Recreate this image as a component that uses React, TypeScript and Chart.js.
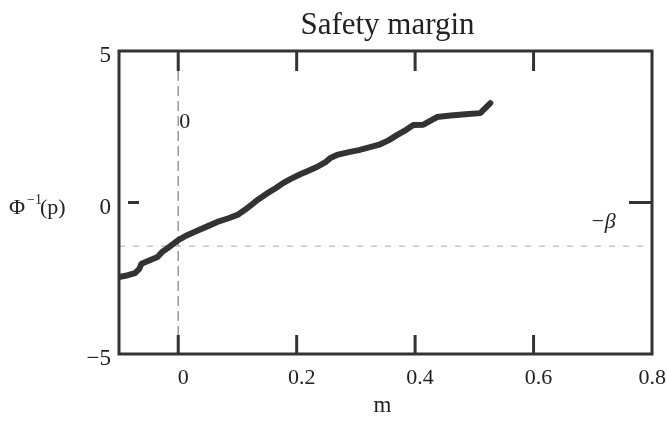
import React, { useEffect, useRef } from "react";
import { Chart, registerables } from "chart.js";

Chart.register(...registerables);

const mValues = [
  -0.1, -0.085, -0.073, -0.066, -0.062, -0.047, -0.035, -0.027, -0.014, 0, 0.015, 0.032, 0.05,
  0.066, 0.085, 0.1, 0.112, 0.122, 0.135, 0.15, 0.165, 0.177, 0.19, 0.206, 0.22, 0.235, 0.25,
  0.257, 0.268, 0.29, 0.305, 0.319, 0.341, 0.355, 0.37, 0.385, 0.397, 0.414, 0.437, 0.46, 0.485,
  0.51, 0.527,
];
const phiValues = [
  -2.46, -2.4, -2.33, -2.2, -2.02, -1.9, -1.8, -1.63, -1.45, -1.24, -1.08, -0.93, -0.78, -0.64,
  -0.52, -0.41, -0.25, -0.1, 0.1, 0.3, 0.48, 0.64, 0.78, 0.93, 1.05, 1.18, 1.35, 1.47, 1.57, 1.67,
  1.73, 1.8, 1.92, 2.05, 2.23, 2.4, 2.56, 2.57, 2.82, 2.87, 2.91, 2.95, 3.28,
];
const xTicks = [0, 0.2, 0.4, 0.6, 0.8];
const xTickLabels = ["0", "0.2", "0.4", "0.6", "0.8"];
const yTicks = [-5, 0, 5];
const innerXTicks = [0, 0.2, 0.4, 0.6];
const beta = 1.44;
const titleText = "Safety margin";
const xTitle = "m";

const FONT = "'Liberation Serif', 'Times New Roman', serif";

const decorPlugin = {
  id: "decor",
  beforeDatasetsDraw(chart: any) {
    const { ctx, chartArea: a, scales } = chart;
    const xs = scales.x;
    const ys = scales.y;
    ctx.save();
    const x0 = xs.getPixelForValue(0);
    ctx.strokeStyle = "#9a9a9a";
    ctx.lineWidth = 1.5;
    ctx.setLineDash([10, 5]);
    ctx.beginPath();
    ctx.moveTo(x0, a.top + 20);
    ctx.lineTo(x0, a.bottom);
    ctx.stroke();
    const yb = ys.getPixelForValue(-beta);
    ctx.strokeStyle = "#a8a8a8";
    ctx.lineWidth = 1;
    ctx.setLineDash([6, 8]);
    ctx.beginPath();
    ctx.moveTo(a.left, yb);
    ctx.lineTo(a.right, yb);
    ctx.stroke();
    ctx.restore();
  },
  afterDatasetsDraw(chart: any) {
    const { ctx, chartArea: a, scales, width } = chart;
    const xs = scales.x;
    const ys = scales.y;
    ctx.save();
    ctx.setLineDash([]);
    ctx.strokeStyle = "#333";
    ctx.lineWidth = 3;
    ctx.strokeRect(a.left, a.top, a.right - a.left, a.bottom - a.top);
    innerXTicks.forEach((v) => {
      const px = xs.getPixelForValue(v);
      ctx.beginPath();
      ctx.moveTo(px, a.top);
      ctx.lineTo(px, a.top + 20);
      ctx.stroke();
      ctx.beginPath();
      ctx.moveTo(px, a.bottom);
      ctx.lineTo(px, a.bottom - 19);
      ctx.stroke();
    });
    const y0 = ys.getPixelForValue(0);
    ctx.beginPath();
    ctx.moveTo(a.left + 9, y0);
    ctx.lineTo(a.left + 20, y0);
    ctx.stroke();
    ctx.beginPath();
    ctx.moveTo(a.right - 23, y0);
    ctx.lineTo(a.right, y0);
    ctx.stroke();

    ctx.fillStyle = "#222";
    ctx.textBaseline = "alphabetic";

    // x tick labels
    ctx.textAlign = "center";
    ctx.font = `22px ${FONT}`;
    xTicks.forEach((v, i) => {
      const label = xTickLabels[i];
      const w = ctx.measureText(label).width;
      let cx = xs.getPixelForValue(v) + 5;
      if (cx + w / 2 > width - 1) cx = width - 1 - w / 2;
      ctx.fillText(label, cx, 384);
    });

    ctx.font = `31px ${FONT}`;
    ctx.fillText(titleText, (a.left + a.right) / 2 + 2, 34);
    ctx.font = `23px ${FONT}`;
    ctx.fillText(xTitle, (a.left + a.right) / 2 - 3, 412);

    ctx.textAlign = "left";
    ctx.font = `22px ${FONT}`;
    ctx.fillText("Φ", 9, 214);
    ctx.font = `14px ${FONT}`;
    ctx.fillText("−1", 27, 204);
    ctx.font = `22px ${FONT}`;
    ctx.fillText("(p)", 40, 214);

    ctx.font = `22px ${FONT}`;
    ctx.fillText("0", xs.getPixelForValue(0) + 1, 128);
    ctx.font = `italic 22px ${FONT}`;
    ctx.fillText("−β", 590, ys.getPixelForValue(-beta) - 18);
    ctx.restore();
  },
};

export default function App() {
  const ref = useRef<HTMLCanvasElement | null>(null);
  useEffect(() => {
    if (!ref.current) return;
    const chart = new Chart(ref.current, {
      type: "scatter",
      data: {
        datasets: [
          {
            data: mValues.map((m, i) => ({ x: m, y: phiValues[i] })),
            showLine: true,
            borderColor: "#333",
            borderWidth: 6,
            pointRadius: 0,
            tension: 0,
            borderJoinStyle: "round",
            borderCapStyle: "round",
          } as any,
        ],
      },
      options: {
        animation: false,
        responsive: true,
        maintainAspectRatio: false,
        layout: { padding: { top: 51, right: 15, left: 0, bottom: 0 } },
        plugins: { legend: { display: false }, tooltip: { enabled: false }, title: { display: false } },
        scales: {
          x: {
            type: "linear",
            min: -0.1,
            max: 0.8,
            grid: { display: false, drawTicks: false },
            border: { display: false },
            afterBuildTicks: (s: any) => {
              s.ticks = xTicks.map((v) => ({ value: v }));
            },
            afterFit: (s: any) => {
              s.height = 76;
              s.paddingLeft = 0;
              s.paddingRight = 0;
            },
            ticks: { display: false },
          },
          y: {
            type: "linear",
            min: -5,
            max: 5,
            grid: { display: false, drawTicks: false },
            border: { display: false },
            afterBuildTicks: (s: any) => {
              s.ticks = yTicks.map((v) => ({ value: v }));
            },
            afterFit: (s: any) => {
              s.width = 119;
              s.paddingTop = 0;
              s.paddingBottom = 0;
            },
            ticks: {
              padding: 8,
              labelOffset: 5,
              autoSkip: false,
              color: "#222",
              font: { family: FONT, size: 23 },
              callback: (v: any) => (v < 0 ? "−" + String(-v) : String(v)),
            },
          },
        },
      },
      plugins: [decorPlugin],
    });
    return () => chart.destroy();
  }, []);
  return (
    <div style={{ position: "absolute", left: 0, top: 0, width: 667, height: 430, background: "#fff" }}>
      <canvas ref={ref} />
    </div>
  );
}
